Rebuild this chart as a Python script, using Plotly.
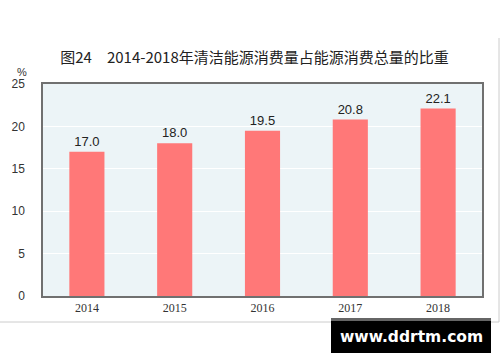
import plotly.graph_objects as go

years = ["2014", "2015", "2016", "2017", "2018"]
shares = [17.0, 18.0, 19.5, 20.8, 22.1]
y_ticks = [0, 5, 10, 15, 20, 25]
title_text = "图24　2014-2018年清洁能源消费量占能源消费总量的比重"
unit_text = "%"
watermark_text = "www.ddrtm.com"

W, H = 500, 362
L, R, T, B = 43, 482, 84, 296

def px(x):
    return (x - L) / (R - L)

def py(y):
    return (B - y) / (B - T)

fig = go.Figure()
fig.add_trace(go.Bar(
    x=years, y=shares,
    marker=dict(color="#FF7878", line=dict(width=0)),
    width=0.4,
    text=[f"{v:.1f}" for v in shares],
    textposition="outside",
    textfont=dict(size=13, color="#222222", family="Liberation Sans, Arial"),
    cliponaxis=False,
    hoverinfo="skip",
))

fig.update_layout(
    width=W, height=H,
    margin=dict(l=L, r=W - R, t=T, b=H - B),
    paper_bgcolor="white",
    plot_bgcolor="#ECF4F7",
    showlegend=False,
    font=dict(family="Liberation Sans, Arial", color="#333333"),
    title=dict(
        text=title_text,
        x=(62 + 447) / 2 / W, xanchor="center",
        y=1 - 58 / H, yanchor="middle",
        yref="container", xref="container",
        font=dict(size=15, color="#222222", family="Noto Sans CJK SC"),
    ),
    bargap=0.6,
)

fig.update_xaxes(
    showgrid=False, zeroline=False,
    showline=True, linecolor="#707070", linewidth=1.5, mirror=True,
    ticks="", tickfont=dict(size=12, color="#333333", family="Liberation Serif"),
)
fig.update_yaxes(
    range=[0, 25], tickvals=y_ticks,
    showgrid=True, gridcolor="#FFFFFF", gridwidth=1,
    zeroline=False,
    showline=True, linecolor="#707070", linewidth=1.5, mirror=True,
    ticks="", ticklabelstandoff=14,
    tickfont=dict(size=12, color="#333333"),
)

# unit label
fig.add_annotation(
    text=unit_text, xref="paper", yref="paper",
    x=px(22), y=py(72), xanchor="center", yanchor="middle", showarrow=False,
    font=dict(size=11, color="#333333"),
)

# frame lines (light gray)
fig.add_shape(type="line", xref="paper", yref="paper",
              x0=px(0), x1=px(499), y0=py(322), y1=py(322),
              line=dict(color="#CCCCCC", width=1))
fig.add_shape(type="line", xref="paper", yref="paper",
              x0=px(499), x1=px(499), y0=py(38), y1=py(322),
              line=dict(color="#CCCCCC", width=1))

# watermark box
fig.add_shape(type="rect", xref="paper", yref="paper",
              x0=px(331), x1=px(491), y0=py(353), y1=py(319),
              fillcolor="#000000", line=dict(width=0))
fig.add_shape(type="rect", xref="paper", yref="paper",
              x0=px(331), x1=px(491), y0=py(321), y1=py(318),
              fillcolor="#666666", line=dict(width=0))
fig.add_annotation(
    text=f"<b>{watermark_text}</b>", xref="paper", yref="paper",
    x=px(411), y=py(337), xanchor="center", yanchor="middle", showarrow=False,
    font=dict(size=15.5, color="#FFFFFF", family="DejaVu Sans"),
)

fig.write_html(
    "out.html",
    config={"displayModeBar": False},
    post_script="document.body.style.margin='0';document.body.style.overflow='hidden';",
)
